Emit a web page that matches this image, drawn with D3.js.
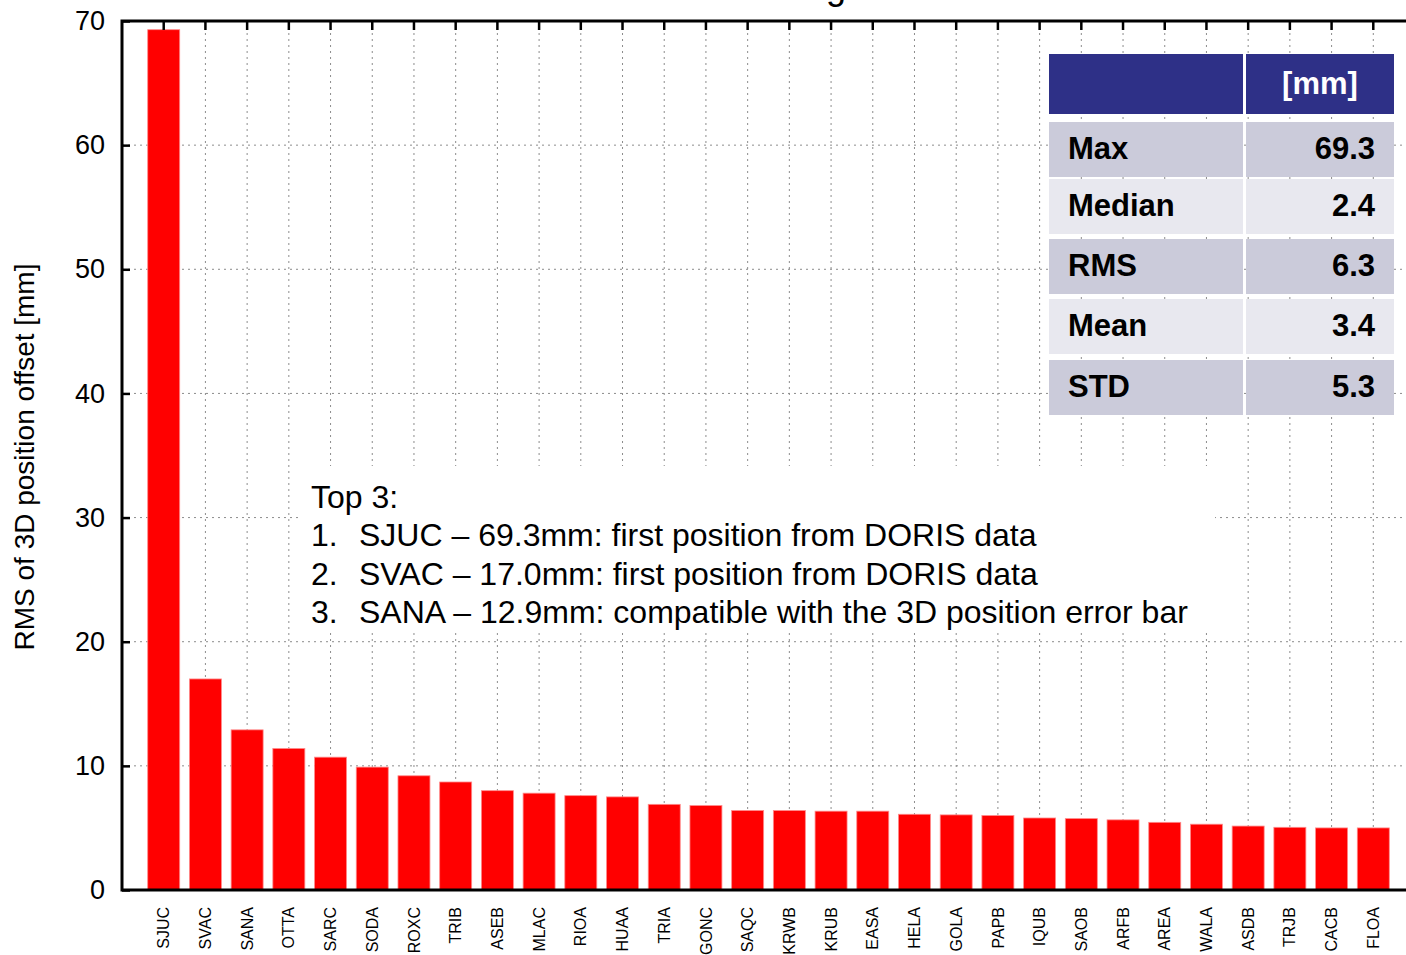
<!DOCTYPE html>
<html>
<head>
<meta charset="utf-8">
<script src="https://cdn.jsdelivr.net/npm/d3@7"></script>
<style>
  body { margin: 0; background: #fff; }
  svg { display: block; font-family: "Liberation Sans", Arial, sans-serif; }
</style>
</head>
<body>
<div id="chart"></div>
<script>
// station names, sorted by RMS
const stations = ["SJUC","SVAC","SANA","OTTA","SARC","SODA","ROXC","TRIB","ASEB","MLAC",
  "RIOA","HUAA","TRIA","GONC","SAQC","KRWB","KRUB","EASA","HELA","GOLA",
  "PAPB","IQUB","SAOB","ARFB","AREA","WALA","ASDB","TRJB","CACB","FLOA"];
// RMS of 3D position offset [mm]
const rmsValues = [69.3,17.0,12.9,11.4,10.7,9.9,9.2,8.7,8.0,7.8,
  7.6,7.5,6.9,6.8,6.4,6.4,6.35,6.35,6.1,6.05,
  6.0,5.8,5.75,5.65,5.45,5.3,5.15,5.05,5.0,5.0];
const yTicks = [0,10,20,30,40,50,60,70];

// stats table
const statNames = ["Max","Median","RMS","Mean","STD"];
const statValues = ["69.3","2.4","6.3","3.4","5.3"];
const statUnit = "[mm]";

// annotation
const noteTitle = "Top 3:";
const noteLines = [
  ["1.", "SJUC \u2013 69.3mm: first position from DORIS data"],
  ["2.", "SVAC \u2013 17.0mm: first position from DORIS data"],
  ["3.", "SANA \u2013 12.9mm: compatible with the 3D position error bar"]
];

const W = 1406, H = 955;
const pLeft = 122, pTop = 21, pBottom = 890, pRight = 1415;

const svg = d3.select("#chart").append("svg")
  .attr("width", W).attr("height", H);

const x = d3.scaleBand()
  .domain(stations)
  .range([pLeft, pRight])
  .paddingInner(0.233)
  .paddingOuter(0.6165);

const y = d3.scaleLinear()
  .domain([0, 70])
  .range([pBottom, pTop]);

// title (mostly outside the picture)
svg.append("text")
  .attr("x", 836).attr("y", -1)
  .attr("text-anchor", "middle")
  .attr("font-size", 36)
  .text("g");

// grid
const grid = svg.append("g");
grid.selectAll(".vg").data(stations).enter().append("line")
  .attr("x1", d => x(d) + x.bandwidth() / 2)
  .attr("x2", d => x(d) + x.bandwidth() / 2)
  .attr("y1", pTop).attr("y2", pBottom)
  .attr("stroke", "#8c8c8c").attr("stroke-width", 1)
  .attr("stroke-dasharray", "2,4");
grid.selectAll(".hg").data(yTicks.slice(1, -1)).enter().append("line")
  .attr("x1", pLeft).attr("x2", pRight)
  .attr("y1", d => y(d)).attr("y2", d => y(d))
  .attr("stroke", "#8c8c8c").attr("stroke-width", 1)
  .attr("stroke-dasharray", "2,4");

// bars
svg.selectAll(".bar").data(stations).enter().append("rect")
  .attr("x", d => x(d))
  .attr("y", (d, i) => y(rmsValues[i]))
  .attr("width", x.bandwidth())
  .attr("height", (d, i) => pBottom - y(rmsValues[i]))
  .attr("fill", "#ff0000")
  .attr("stroke", "#ff8a8a").attr("stroke-width", 0.8);

// left axis, ticks pointing inward
const yAxis = svg.append("g")
  .attr("transform", "translate(" + pLeft + ",0)")
  .call(d3.axisLeft(y).tickValues(yTicks).tickSize(-8).tickPadding(17));
yAxis.select(".domain").remove();
yAxis.selectAll("line").attr("stroke", "#000").attr("stroke-width", 2.5);
yAxis.selectAll("text").attr("font-size", 27).attr("fill", "#000")
  .attr("font-family", "Liberation Sans, Arial, sans-serif");

// top axis ticks
const tAxis = svg.append("g")
  .attr("transform", "translate(0," + pTop + ")")
  .call(d3.axisTop(x).tickSize(-9).tickFormat(""));
tAxis.select(".domain").remove();
tAxis.selectAll("line").attr("stroke", "#000").attr("stroke-width", 2.5);

// bottom axis labels
const xAxis = svg.append("g")
  .attr("transform", "translate(0," + pBottom + ")")
  .call(d3.axisBottom(x).tickSize(0));
xAxis.select(".domain").remove();
xAxis.selectAll("text")
  .attr("transform", "rotate(-90)")
  .attr("x", -17).attr("y", 0).attr("dy", "0.35em")
  .attr("text-anchor", "end")
  .attr("font-size", 16).attr("fill", "#000")
  .attr("font-family", "Liberation Sans, Arial, sans-serif");

// frame
svg.append("path")
  .attr("d", `M${pRight},${pTop}H${pLeft}V${pBottom}H${pRight}`)
  .attr("fill", "none").attr("stroke", "#000").attr("stroke-width", 3);

// y label
svg.append("text")
  .attr("transform", "translate(34,457) rotate(-90)")
  .attr("text-anchor", "middle")
  .attr("font-size", 28)
  .text("RMS of 3D position offset [mm]");

// annotation box
svg.append("rect")
  .attr("x", 300).attr("y", 466).attr("width", 915).attr("height", 165)
  .attr("fill", "#fff");
svg.append("text")
  .attr("x", 311).attr("y", 508)
  .attr("font-size", 32)
  .text(noteTitle);
noteLines.forEach((l, i) => {
  const ty = 546 + i * 38.5;
  svg.append("text").attr("x", 311).attr("y", ty).attr("font-size", 32).text(l[0]);
  svg.append("text").attr("x", 359).attr("y", ty).attr("font-size", 32).text(l[1]);
});

// stats table
const tbl = svg.append("g");
const c1 = 1049, c2 = 1246, cEnd = 1394;
tbl.append("rect").attr("x", c1).attr("y", 54).attr("width", c2 - c1 - 3).attr("height", 60).attr("fill", "#2e3087");
tbl.append("rect").attr("x", c2).attr("y", 54).attr("width", cEnd - c2).attr("height", 60).attr("fill", "#2e3087");
tbl.append("text").attr("x", 1320).attr("y", 94)
  .attr("text-anchor", "middle").attr("font-size", 31).attr("font-weight", "bold")
  .attr("fill", "#fff").text(statUnit);
const rowTops = [122, 179, 239, 299, 360];
statNames.forEach((s, i) => {
  const ry = rowTops[i];
  const fill = i % 2 === 0 ? "#cbcbda" : "#e8e8ef";
  tbl.append("rect").attr("x", c1).attr("y", ry).attr("width", c2 - c1 - 3).attr("height", 55).attr("fill", fill);
  tbl.append("rect").attr("x", c2).attr("y", ry).attr("width", cEnd - c2).attr("height", 55).attr("fill", fill);
  tbl.append("text").attr("x", 1068).attr("y", ry + 37)
    .attr("font-size", 31).attr("font-weight", "bold").text(s);
  tbl.append("text").attr("x", 1375).attr("y", ry + 37)
    .attr("text-anchor", "end").attr("font-size", 31).attr("font-weight", "bold")
    .text(statValues[i]);
});
</script>
</body>
</html>
